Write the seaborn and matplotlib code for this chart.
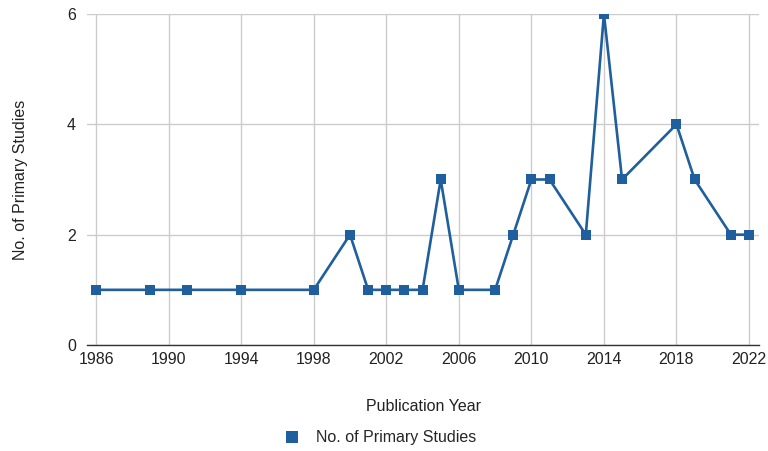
import matplotlib
matplotlib.use("Agg")
import matplotlib.pyplot as plt
import seaborn as sns
import pandas as pd

years = [1986, 1989, 1991, 1994, 1998, 2000, 2001, 2002, 2003, 2004, 2005, 2006,
         2008, 2009, 2010, 2011, 2013, 2014, 2015, 2018, 2019, 2021, 2022]
studies = [1, 1, 1, 1, 1, 2, 1, 1, 1, 1, 3, 1, 1, 2, 3, 3, 2, 6, 3, 4, 3, 2, 2]
x_ticks = [1986, 1990, 1994, 1998, 2002, 2006, 2010, 2014, 2018, 2022]
y_ticks = [0, 2, 4, 6]

sns.set_style("white")
plt.rcParams['font.family'] = ['Liberation Sans', 'DejaVu Sans']

df = pd.DataFrame({"Publication Year": years, "No. of Primary Studies": studies})
color = "#1f5f9d"
fs = 11.5

fig = plt.figure(figsize=(7.68, 4.51), dpi=100)
ax = fig.add_axes([0.1133, 0.235, 0.875, 0.734])
sns.lineplot(data=df, x="Publication Year", y="No. of Primary Studies", ax=ax,
             color=color, linewidth=1.9, marker="s", markersize=6.5,
             markeredgewidth=0, label="No. of Primary Studies", legend=False)

ax.set_xlim(1985.5, 2022.55)
ax.set_ylim(0, 6)
ax.set_xticks(x_ticks)
ax.set_yticks(y_ticks)
ax.grid(True, color="#cccccc", linewidth=1.0)
ax.set_axisbelow(True)
for s in ["left", "right", "top"]:
    ax.spines[s].set_visible(False)
ax.spines["bottom"].set_color("#333333")
ax.spines["bottom"].set_linewidth(1.0)
ax.tick_params(axis="both", length=0, labelsize=fs, colors="#222222")
ax.tick_params(axis="y", pad=8)
ax.tick_params(axis="x", pad=5)
ax.set_xlabel("Publication Year", fontsize=fs, color="#222222", labelpad=23)
ax.set_ylabel("No. of Primary Studies", fontsize=fs, color="#222222", labelpad=28)

handles, labels = ax.get_legend_handles_labels()
leg = fig.legend(handles, labels, loc="center", bbox_to_anchor=(0.495, 0.029),
                 frameon=False, fontsize=fs, handlelength=1.0, handletextpad=1.0)
for h in leg.legend_handles:
    h.set_linestyle("none")
    h.set_markersize(8)

fig.savefig("out.png", dpi=100)
